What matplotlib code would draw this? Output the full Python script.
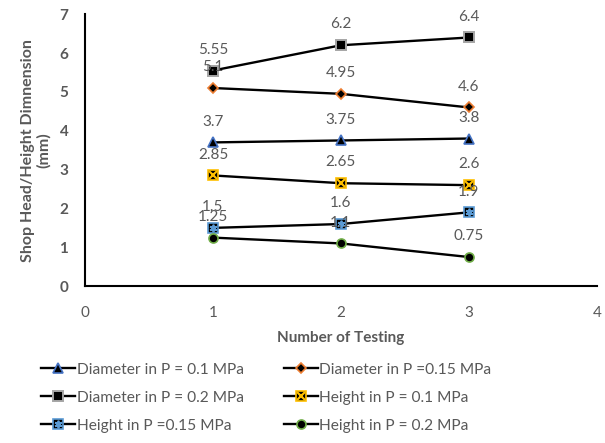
import matplotlib.pyplot as plt

plt.rcParams['font.family'] = ['Lato', 'DejaVu Sans']

tests = [1, 2, 3]
dia_01 = [3.7, 3.75, 3.8]
dia_015 = [5.1, 4.95, 4.6]
dia_02 = [5.55, 6.2, 6.4]
hei_01 = [2.85, 2.65, 2.6]
hei_015 = [1.5, 1.6, 1.9]
hei_02 = [1.25, 1.1, 0.75]

labels = ['Diameter in P = 0.1 MPa', 'Diameter in P =0.15 MPa',
          'Diameter in P = 0.2 MPa', 'Height in P = 0.1 MPa',
          'Height in P =0.15 MPa', 'Height in P = 0.2 MPa']

gray = '#595959'
fig = plt.figure(figsize=(6.05, 4.43), dpi=100)
ax = fig.add_axes([0.1405, 0.354, 0.846, 0.614])

lw = 1.7
ms = 6.5
h = []
h.append(ax.plot(tests, dia_01, color='black', lw=lw, marker='^', ms=ms + 1,
                 mfc='black', mec='#4472C4', mew=1.2)[0])
h.append(ax.plot(tests, dia_015, color='black', lw=lw, marker='D', ms=ms - 1.5,
                 mfc='black', mec='#ED7D31', mew=1.2)[0])
h.append(ax.plot(tests, dia_02, color='black', lw=lw, marker='s', ms=ms,
                 mfc='black', mec='#A5A5A5', mew=1.4)[0])
l1 = ax.plot(tests, hei_01, color='black', lw=lw, marker='s', ms=ms,
             mfc='black', mec='#FFC000', mew=1.2)[0]
l2 = ax.plot(tests, hei_01, ls='none', marker='x', ms=ms - 1, mec='#FFC000', mew=1.5)[0]
h.append((l1, l2))
l1 = ax.plot(tests, hei_015, color='black', lw=lw, marker='s', ms=ms,
             mfc='black', mec='#5B9BD5', mew=1.2)[0]
l2 = ax.plot(tests, hei_015, ls='none', marker=(6, 2, 0), ms=ms - 1, mec='#5B9BD5', mew=1.3)[0]
h.append((l1, l2))
h.append(ax.plot(tests, hei_02, color='black', lw=lw, marker='o', ms=ms,
                 mfc='black', mec='#70AD47', mew=1.2)[0])

for ys in [dia_01, dia_015, dia_02, hei_01, hei_015, hei_02]:
    for x, y in zip(tests, ys):
        ax.annotate(f'{y:g}', (x, y), xytext=(0, 15), textcoords='offset points',
                    ha='center', va='center', fontsize=11, color=gray)

ax.set_xlim(0, 4)
ax.set_ylim(0, 7)
ax.set_xticks([0, 1, 2, 3, 4])
ax.set_yticks(range(8))
for s in ['top', 'right']:
    ax.spines[s].set_visible(False)
for s in ['left', 'bottom']:
    ax.spines[s].set_linewidth(1.5)
ax.tick_params(length=0, labelsize=11, labelcolor=gray)
ax.tick_params(axis='x', pad=14)
ax.tick_params(axis='y', pad=12)
for t in ax.get_yticklabels():
    t.set_fontweight('bold')

ax.set_xlabel('Number of Testing', fontsize=11, fontweight='bold', color=gray, labelpad=8)
ax.set_ylabel('Shop Head/Height Dimnension\n(mm)', fontsize=11.5, fontweight='bold',
              color=gray, labelpad=6, linespacing=1.15)

# legend fills column-wise, so reorder to get the reference's row order
order = [0, 2, 4, 1, 3, 5]
fig.legend([h[i] for i in order], [labels[i] for i in order],
           loc='lower left', bbox_to_anchor=(0.045, -0.008), ncol=2,
           frameon=False, fontsize=11.2, labelcolor=gray, handlelength=2.2,
           handletextpad=0.1, columnspacing=2.55, labelspacing=0.9)

fig.savefig('out.png', dpi=100)
